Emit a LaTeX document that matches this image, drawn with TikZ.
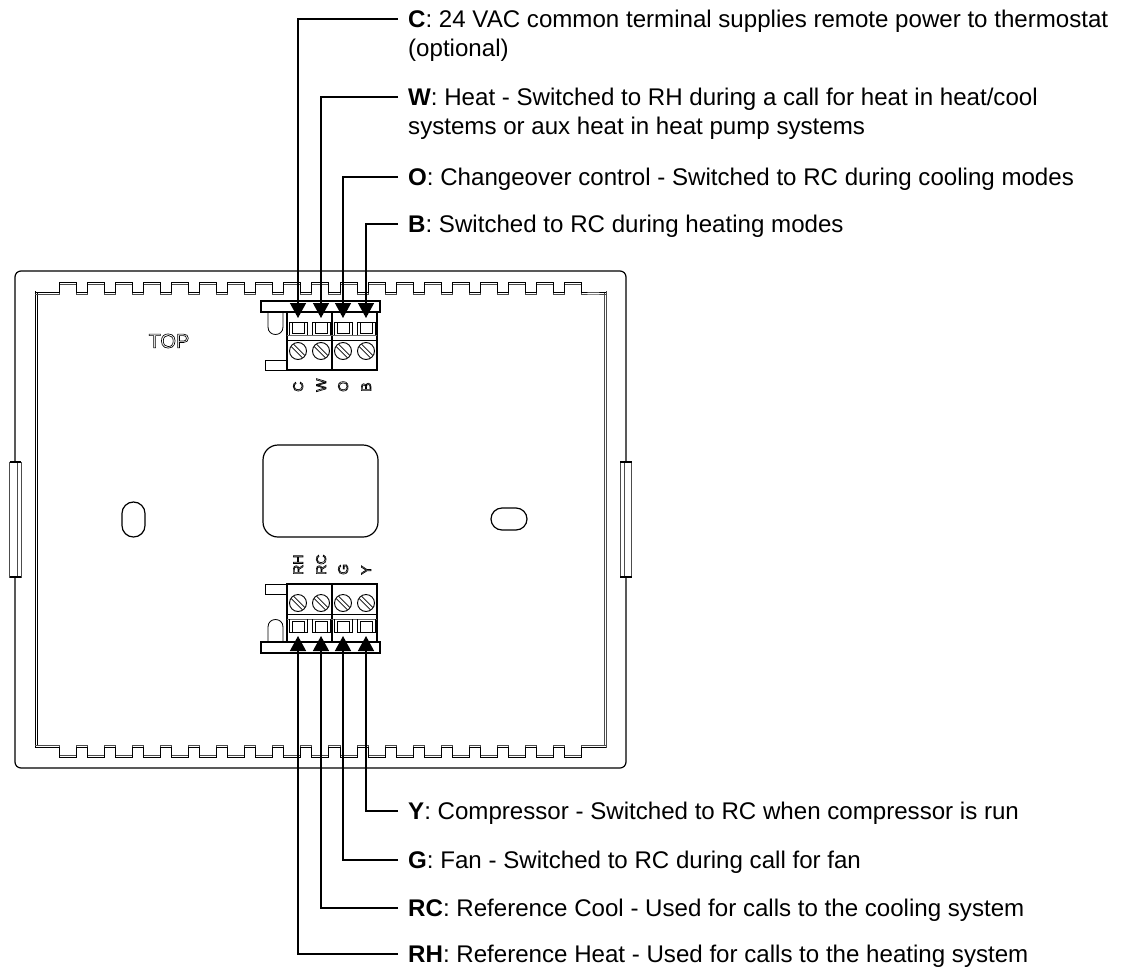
\documentclass[tikz,border=0pt]{standalone}
\usepackage{fontspec}
\setmainfont{Liberation Sans}
\usetikzlibrary{arrows.meta}
\newcommand{\outlined}[1]{\special{pdf:code 1 Tr .65 w}#1\special{pdf:code 0 Tr}}
\newcommand{\termblock}{
    \draw[line width=1.1pt, fill=white] (261,301) rectangle (380,312);
    \draw[line width=1.4pt] (287,312) rectangle (377,370);
    \draw[line width=1.6pt] (332,312) -- (332,370);
    \draw[line width=.7pt, draw=black!60] (287,335) -- (377,335);
    \draw[line width=.9pt] (287,340) -- (377,340);
    \draw[line width=.8pt] (287,360) -- (265,360) -- (265,370) -- (287,370);
    \draw[line width=.8pt] (268,312) -- (268,327) .. controls (268,337) and (283,337) .. (283,327) -- (283,312);
    \foreach \sx in {298,321,343,366} {
      \draw[line width=.8pt] ({\sx-9},335) -- ({\sx-9},322) -- ({\sx+9},322) -- ({\sx+9},335);
      \draw[line width=.8pt] ({\sx-6},322) rectangle ({\sx+6},333);
      \draw[line width=.9pt] (\sx,351) circle[radius=8.5pt];
    }
}
\begin{document}
\begin{tikzpicture}[x=1pt, y=-1pt]
      \tikzstyle{STY1} = [line width=1.2pt]
      \tikzstyle{STY2} = [line width=1.4pt, -{Triangle[width=16pt,length=15pt]}]
      \tikzstyle{STY3} = [line width=.9pt]
      \tikzstyle{LBL} = [anchor=north west, inner sep=0pt, align=left, font=\fontsize{24.1}{28.5}\selectfont]
      \tikzstyle{PIN} = [anchor=west, rotate=90, inner sep=0pt, text height=10pt, text depth=0pt, font=\fontsize{14}{14}\selectfont]

      \useasboundingbox (0,0) rectangle (1126,969);

      %%%%% HOUSING
      \draw[STY1, rounded corners=6pt] (15,271) rectangle (626,768);

      \draw[STY3] (35,291) -- (35,748);
      \draw[STY3] (37,293) -- (37,746);
      \draw[STY3, draw=black!70] (604,293) -- (604,746);
      \draw[STY3, draw=black!70] (606.5,291) -- (606.5,748);

      \foreach \dy/\col in {-2/black!70, 0/black} {
        \draw[STY3, draw=\col, yshift=\dy pt] (35,292) -- (59,292)
          foreach \k in {0,...,18} { -- ++(0,-10) -- ++(17,0) -- ++(0,10) -- ++(11.1,0) } -- (606,292);
      }
      \foreach \dy/\col in {2/black!70, 0/black} {
        \draw[STY3, draw=\col, yshift=\dy pt] (35,747) -- (59,747)
          foreach \k in {0,...,18} { -- ++(0,10) -- ++(17,0) -- ++(0,-10) -- ++(11.1,0) } -- (606,747);
      }

      %%%%% SIDE TABS
      \foreach \tx/\ix in {9.5/17, 620/624} {
        \draw[STY3, fill=white, draw=black!70] (\tx,462) rectangle ({\tx+11.5},577);
        \draw[STY3, draw=black!70] (\ix,462) -- (\ix,577);
        \draw[STY1] (\tx,462) -- ({\tx+11.5},462);
        \draw[STY1] (\tx,577) -- ({\tx+11.5},577);
      }

      %%%%% OPENINGS
      \draw[STY1, rounded corners=15pt] (263,445) rectangle (378,537);
      \draw[STY1, rounded corners=11.4pt] (122,502) rectangle (145,537);
      \draw[STY1, rounded corners=11pt] (491,508) rectangle (527,530);

      %%%%% TERMINALS
      \termblock
      \begin{scope}[shift={(0,954)}, yscale=-1]
        \termblock
      \end{scope}

      %%%%% SCREW SLOTS
      \foreach \sy in {351,603} {
        \foreach \sx in {298,321,343,366} {
          \draw[line width=.7pt] ({\sx-6.8},{\sy-4.4}) -- ({\sx+4.4},{\sy+6.8});
          \draw[line width=.7pt] ({\sx-4.4},{\sy-6.8}) -- ({\sx+6.8},{\sy+4.4});
        }
      }

      \node[font=\fontsize{20}{20}\selectfont, inner sep=0pt](top) at (169,341) {\outlined{TOP}};

      \node[PIN](pC) at (298,392) {\outlined{C}};
      \node[PIN](pW) at (321,392) {\outlined{W}};
      \node[PIN](pO) at (343,392) {\outlined{O}};
      \node[PIN](pB) at (366,392) {\outlined{B}};

      \node[PIN](pRH) at (298,575) {\outlined{RH}};
      \node[PIN](pRC) at (321,575) {\outlined{RC}};
      \node[PIN](pG) at (343,575) {\outlined{G}};
      \node[PIN](pY) at (366,575) {\outlined{Y}};

      %%%%% LABELS
      \node[LBL](lC) at (408,10) {\textbf{C}: 24 VAC common terminal supplies remote power to thermostat\\(optional)};
      \node[LBL](lW) at (408,88) {\textbf{W}: Heat - Switched to RH during a call for heat in heat/cool\\systems or aux heat in heat pump systems};
      \node[LBL](lO) at (408,168) {\textbf{O}: Changeover control - Switched to RC during cooling modes};
      \node[LBL](lB) at (408,215) {\textbf{B}: Switched to RC during heating modes};

      \node[LBL](lY) at (408,802) {\textbf{Y}: Compressor - Switched to RC when compressor is run};
      \node[LBL](lG) at (408,851) {\textbf{G}: Fan - Switched to RC during call for fan};
      \node[LBL](lRC) at (408,899) {\textbf{RC}: Reference Cool - Used for calls to the cooling system};
      \node[LBL](lRH) at (408,945) {\textbf{RH}: Reference Heat - Used for calls to the heating system};

      %%%%% TIPS
      \coordinate (tC) at (298,318);
      \coordinate (tW) at (321,318);
      \coordinate (tO) at (343,318);
      \coordinate (tB) at (366,318);
      \coordinate (tRH) at (298,636);
      \coordinate (tRC) at (321,636);
      \coordinate (tG) at (343,636);
      \coordinate (tY) at (366,636);

      %%%%% LEADERS
      \draw[STY2] ([xshift=-10pt,yshift=-9pt]lC.north west) -| (tC);
      \draw[STY2] ([xshift=-10pt,yshift=-9pt]lW.north west) -| (tW);
      \draw[STY2] ([xshift=-10pt,yshift=-9pt]lO.north west) -| (tO);
      \draw[STY2] ([xshift=-10pt,yshift=-9pt]lB.north west) -| (tB);
      \draw[STY2] ([xshift=-10pt,yshift=-9pt]lY.north west) -| (tY);
      \draw[STY2] ([xshift=-10pt,yshift=-9pt]lG.north west) -| (tG);
      \draw[STY2] ([xshift=-10pt,yshift=-9pt]lRC.north west) -| (tRC);
      \draw[STY2] ([xshift=-10pt,yshift=-9pt]lRH.north west) -| (tRH);
    \end{tikzpicture}
\end{document}
